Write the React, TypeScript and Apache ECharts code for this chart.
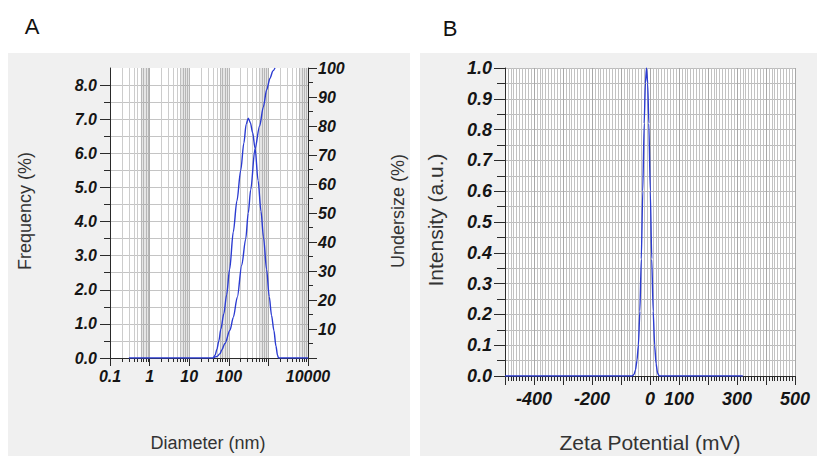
import React, { useEffect, useRef } from 'react';
import * as echarts from 'echarts';

// Panel A: particle size distribution (frequency, left axis) and cumulative undersize (right axis)
const freqDiameter = [0.3, 40, 45, 50, 56, 63, 75, 88, 105, 130, 160, 200, 240, 275, 310, 350, 400, 460, 550, 650, 750, 900, 1050, 1200, 1380, 1550, 1700, 1800, 10000];
const freqValue = [0, 0, 0.08, 0.25, 0.5, 0.85, 1.3, 1.85, 2.6, 3.7, 4.6, 5.5, 6.3, 6.85, 7.03, 6.9, 6.6, 6.15, 5.2, 4.3, 3.55, 2.6, 1.8, 1.25, 0.8, 0.35, 0.08, 0, 0];
const cumDiameter = [40, 50, 60, 66, 80, 107, 130, 164, 212, 267, 310, 357, 457, 600, 743, 906, 1100, 1300, 1470];
const cumValue = [0, 0.5, 1.5, 2.7, 5, 9.6, 14, 21, 32, 41, 50, 58, 72, 80, 86.5, 92.5, 96.5, 99, 100];

const leftTicksA = [0, 1, 2, 3, 4, 5, 6, 7, 8];
const bandStart = [0.6, 6, 60, 600, 6000];
const bandEnd = [1, 10, 100, 1000, 10000];

// Panel B: zeta potential distribution
const zetaMv = [-500, -62, -55, -50, -45, -40, -35, -30, -25, -20, -16, -12, -8, -4, 1, 6, 11, 16, 21, 26, 32, 320];
const zetaIntensity = [0, 0, 0.005, 0.02, 0.05, 0.1, 0.21, 0.38, 0.6, 0.82, 0.95, 1.0, 0.95, 0.82, 0.6, 0.38, 0.21, 0.1, 0.04, 0.01, 0, 0];
const zetaLabels = [-400, -200, 0, 100, 300, 500];

const FONT = 'Liberation Sans, Arial, sans-serif';
const LINE = '#2b3bd1';
const AXIS = '#2a2a2a';

export default function App() {
  const ref = useRef<HTMLDivElement>(null);

  useEffect(() => {
    if (!ref.current) return;
    const chart = echarts.init(ref.current, undefined, { renderer: 'svg' });

    const zip = (a: number[], b: number[]) => a.map((v, i) => [v, b[i]]);
    const bandAreas = bandStart.map((s, i) => [{ xAxis: s, yAxis: 0 }, { xAxis: bandEnd[i], yAxis: 8.5 }]);

    const tickLabelA = { fontFamily: FONT, fontSize: 16, fontWeight: 'bold', fontStyle: 'italic', color: '#151515' };
    const tickLabelB = { fontFamily: FONT, fontSize: 18, fontWeight: 'bold', fontStyle: 'italic', color: '#151515' };

    const option: any = {
      animation: false,
      backgroundColor: 'transparent',
      grid: [
        { left: 110, top: 68, width: 198, height: 290, show: true, backgroundColor: '#ffffff', borderWidth: 0, containLabel: false, outerBoundsMode: 'none' },
        { left: 505, top: 68, width: 290, height: 308, show: true, backgroundColor: '#ffffff', borderWidth: 0, containLabel: false, outerBoundsMode: 'none' },
      ],
      xAxis: [
        {
          gridIndex: 0, type: 'log', logBase: 10, min: 0.1, max: 10000,
          axisLine: { show: true, onZero: false, lineStyle: { color: AXIS, width: 1 } },
          axisTick: { show: true, length: 8, inside: false, lineStyle: { color: AXIS } },
          minorTick: { show: true, splitNumber: 9, length: 4, lineStyle: { color: AXIS } },
          splitLine: { show: true, lineStyle: { color: '#b8b8b8', width: 1 } },
          minorSplitLine: { show: true, lineStyle: { color: '#cccccc', width: 1 } },
          axisLabel: {
            ...tickLabelA, margin: 10,
            formatter: (v: number) => {
              const r = Math.round(Math.log10(v));
              if (r === 3) return '';
              return r < 0 ? '0.1' : String(Math.pow(10, r));
            },
          },
        },
        {
          gridIndex: 1, type: 'value', min: -500, max: 500, interval: 100,
          axisLine: { show: true, onZero: false, lineStyle: { color: AXIS, width: 1 } },
          axisTick: { show: true, length: 9, lineStyle: { color: AXIS } },
          minorTick: { show: true, splitNumber: 10, length: 5, lineStyle: { color: AXIS } },
          splitLine: { show: true, lineStyle: { color: '#a8a8a8', width: 1 } },
          minorSplitLine: { show: true, lineStyle: { color: '#c2c2c2', width: 1 } },
          axisLabel: {
            ...tickLabelB, margin: 14, customValues: zetaLabels,
            formatter: (v: number) => (zetaLabels.indexOf(Math.round(v)) >= 0 ? String(Math.round(v)) : ''),
          },
        },
      ],
      yAxis: [
        {
          gridIndex: 0, type: 'value', min: 0, max: 8.5, interval: 1,
          axisLine: { show: true, onZero: false, lineStyle: { color: AXIS, width: 1 } },
          axisTick: { show: true, length: 10, customValues: leftTicksA, lineStyle: { color: AXIS } },
          minorTick: { show: true, splitNumber: 2, length: 6, lineStyle: { color: AXIS } },
          splitLine: { show: true, lineStyle: { color: '#c4c4c4', width: 1 } },
          minorSplitLine: { show: true, lineStyle: { color: '#c4c4c4', width: 1 } },
          axisLabel: {
            ...tickLabelA, margin: 13, customValues: leftTicksA,
            formatter: (v: number) => (Math.abs(v - Math.round(v)) < 1e-6 ? v.toFixed(1) : ''),
          },
        },
        {
          gridIndex: 0, type: 'value', position: 'right', min: 0, max: 100, interval: 10,
          axisLine: { show: true, onZero: false, lineStyle: { color: AXIS, width: 1 } },
          axisTick: { show: true, length: 9, lineStyle: { color: AXIS } },
          minorTick: { show: true, splitNumber: 2, length: 5, lineStyle: { color: AXIS } },
          splitLine: { show: false },
          axisLabel: {
            ...tickLabelA, margin: 10,
            formatter: (v: number) => (v === 0 ? '' : String(v)),
          },
        },
        {
          gridIndex: 1, type: 'value', min: 0, max: 1, interval: 0.1,
          axisLine: { show: true, onZero: false, lineStyle: { color: AXIS, width: 1 } },
          axisTick: { show: true, length: 11, lineStyle: { color: AXIS } },
          minorTick: { show: true, splitNumber: 2, length: 8, lineStyle: { color: AXIS } },
          splitLine: { show: true, lineStyle: { color: '#bdbdbd', width: 1 } },
          minorSplitLine: { show: true, lineStyle: { color: '#bdbdbd', width: 1 } },
          axisLabel: { ...tickLabelB, margin: 13, formatter: (v: number) => v.toFixed(1) },
        },
      ],
      series: [
        {
          name: 'Frequency', type: 'line', xAxisIndex: 0, yAxisIndex: 0,
          data: zip(freqDiameter, freqValue), showSymbol: false, smooth: 0.3, smoothMonotone: 'x',
          lineStyle: { color: LINE, width: 1.4 }, z: 5,
          markArea: { silent: true, z: 1, itemStyle: { color: 'rgba(0,0,0,0.1)', borderWidth: 0 }, data: bandAreas },
        },
        {
          name: 'Undersize', type: 'line', xAxisIndex: 0, yAxisIndex: 1,
          data: zip(cumDiameter, cumValue), showSymbol: false, smooth: 0.3, smoothMonotone: 'x',
          lineStyle: { color: LINE, width: 1.4 }, z: 5,
        },
        {
          name: 'Intensity', type: 'line', xAxisIndex: 1, yAxisIndex: 2,
          data: zip(zetaMv, zetaIntensity), showSymbol: false, smooth: 0.2, smoothMonotone: 'x',
          lineStyle: { color: LINE, width: 1.4 }, z: 5,
        },
      ],
      graphic: [
        { type: 'text', x: 32, y: 26, style: { text: 'A', font: `22px ${FONT}`, fill: '#111', align: 'center', verticalAlign: 'middle' } },
        { type: 'text', x: 450, y: 28, style: { text: 'B', font: `22px ${FONT}`, fill: '#111', align: 'center', verticalAlign: 'middle' } },
        { type: 'text', x: 25, y: 211, rotation: Math.PI / 2, style: { text: 'Frequency (%)', font: `18px ${FONT}`, fill: '#333', align: 'center', verticalAlign: 'middle' } },
        { type: 'text', x: 398, y: 211, rotation: Math.PI / 2, style: { text: 'Undersize (%)', font: `18px ${FONT}`, fill: '#333', align: 'center', verticalAlign: 'middle' } },
        { type: 'text', x: 208, y: 443, style: { text: 'Diameter (nm)', font: `18px ${FONT}`, fill: '#333', align: 'center', verticalAlign: 'middle' } },
        { type: 'text', x: 435, y: 220, rotation: Math.PI / 2, style: { text: 'Intensity (a.u.)', font: `21px ${FONT}`, fill: '#333', align: 'center', verticalAlign: 'middle' } },
        { type: 'text', x: 650, y: 442, style: { text: 'Zeta Potential (mV)', font: `21px ${FONT}`, fill: '#333', align: 'center', verticalAlign: 'middle' } },
      ],
    };

    chart.setOption(option);
    return () => chart.dispose();
  }, []);

  return (
    <div style={{ position: 'fixed', left: 0, top: 0, width: 817, height: 456, background: '#ffffff', overflow: 'hidden' }}>
      <div style={{ position: 'absolute', left: 8, top: 53, width: 402, height: 403, background: '#f0f0f0' }} />
      <div style={{ position: 'absolute', left: 420, top: 53, width: 397, height: 403, background: '#f0f0f0' }} />
      <div ref={ref} style={{ position: 'absolute', left: 0, top: 0, width: 817, height: 456 }} />
    </div>
  );
}
